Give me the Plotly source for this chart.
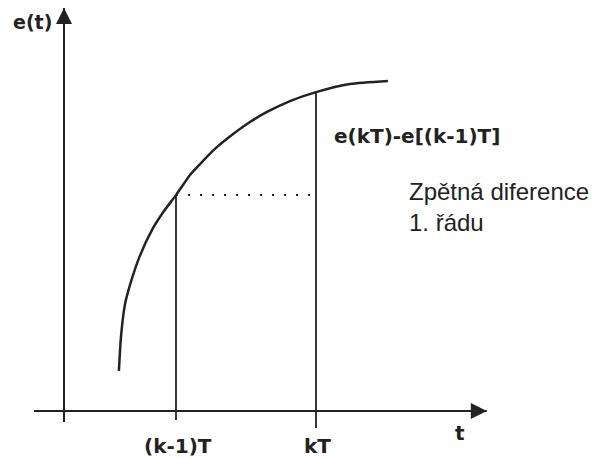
import plotly.graph_objects as go

# ---- data (time t, signal e) ----
curve_t = [1.96, 2.04, 2.18, 2.39, 2.71, 3.14, 3.57, 4.0, 4.5, 4.86, 5.39, 6.04,
           6.64, 7.25, 8.07, 9.0, 10.21, 11.57]
curve_e = [1.43, 2.71, 3.82, 4.61, 5.54, 6.46, 7.14, 7.71, 8.43, 8.82, 9.36, 9.89,
           10.32, 10.68, 11.07, 11.39, 11.68, 11.79]

sample_t = [4.0, 9.0]            # (k-1)T, kT
sample_e = [7.71, 11.39]         # e((k-1)T), e(kT)
sample_labels = ["(k-1)T", "kT"]
tick_depth = [-0.32, -0.61]

x_axis_span = [-1.07, 15.1]
y_axis_span = [-0.39, 14.39]

diff_label = "e(kT)-e[(k-1)T]"
note_label = "Zpětná diference<br>1. řádu"

INK = "#222222"
BOLD = "DejaVu Sans"
REG = "Liberation Sans"

fig = go.Figure()

# curve
fig.add_trace(go.Scatter(x=curve_t, y=curve_e, mode="lines",
                         line=dict(color=INK, width=2.5, shape="spline", smoothing=0.6),
                         hoverinfo="skip"))

# vertical sample lines
for t, e, d in zip(sample_t, sample_e, tick_depth):
    fig.add_trace(go.Scatter(x=[t, t], y=[d, e], mode="lines",
                             line=dict(color=INK, width=1.8), hoverinfo="skip"))

# dotted horizontal line at e((k-1)T)
fig.add_trace(go.Scatter(x=[sample_t[0], sample_t[1]], y=[sample_e[0], sample_e[0]],
                         mode="lines", line=dict(color=INK, width=2, dash="2px,10px"),
                         hoverinfo="skip"))

# axes (lines)
fig.add_trace(go.Scatter(x=x_axis_span, y=[0, 0], mode="lines",
                         line=dict(color=INK, width=2), hoverinfo="skip"))
fig.add_trace(go.Scatter(x=[0, 0], y=y_axis_span, mode="lines",
                         line=dict(color=INK, width=2), hoverinfo="skip"))

annotations = [
    # arrowheads
    dict(x=x_axis_span[1], y=0, ax=x_axis_span[1] - 1.0, ay=0, xref="x", yref="y",
         axref="x", ayref="y", showarrow=True, arrowhead=2, arrowsize=1.6,
         arrowwidth=2, arrowcolor=INK, text=""),
    dict(x=0, y=y_axis_span[1], ax=0, ay=y_axis_span[1] - 1.0, xref="x", yref="y",
         axref="x", ayref="y", showarrow=True, arrowhead=2, arrowsize=1.6,
         arrowwidth=2, arrowcolor=INK, text=""),
    # labels
    dict(x=-1.14, y=13.89, text="<b>e(t)</b>", showarrow=False,
         font=dict(family=BOLD, size=19, color=INK)),
    dict(x=14.14, y=-0.79, text="<b>t</b>", showarrow=False,
         font=dict(family=BOLD, size=20, color=INK)),
    dict(x=9.57, y=9.82, text="<b>" + diff_label + "</b>", showarrow=False, xanchor="left",
         font=dict(family=BOLD, size=20, color=INK)),
    dict(x=12.25, y=7.3, text=note_label, showarrow=False, xanchor="left", align="left",
         font=dict(family=REG, size=24, color=INK)),
]
for t, lab in zip(sample_t, sample_labels):
    annotations.append(dict(x=t + 0.07, y=-1.25, text="<b>" + lab + "</b>", showarrow=False,
                            font=dict(family=BOLD, size=20, color=INK)))

# the page body has an 8px margin, so the figure is 593x451 and starts at (8, 8)
fig.update_layout(
    width=593, height=451,
    margin=dict(l=0, r=0, t=0, b=0),
    paper_bgcolor="white", plot_bgcolor="white",
    showlegend=False,
    xaxis=dict(range=[-56 / 28, 537 / 28], visible=False, fixedrange=True),
    yaxis=dict(range=[-48 / 28, 403 / 28], visible=False, fixedrange=True),
    annotations=annotations,
)

fig.write_html("out.html")
